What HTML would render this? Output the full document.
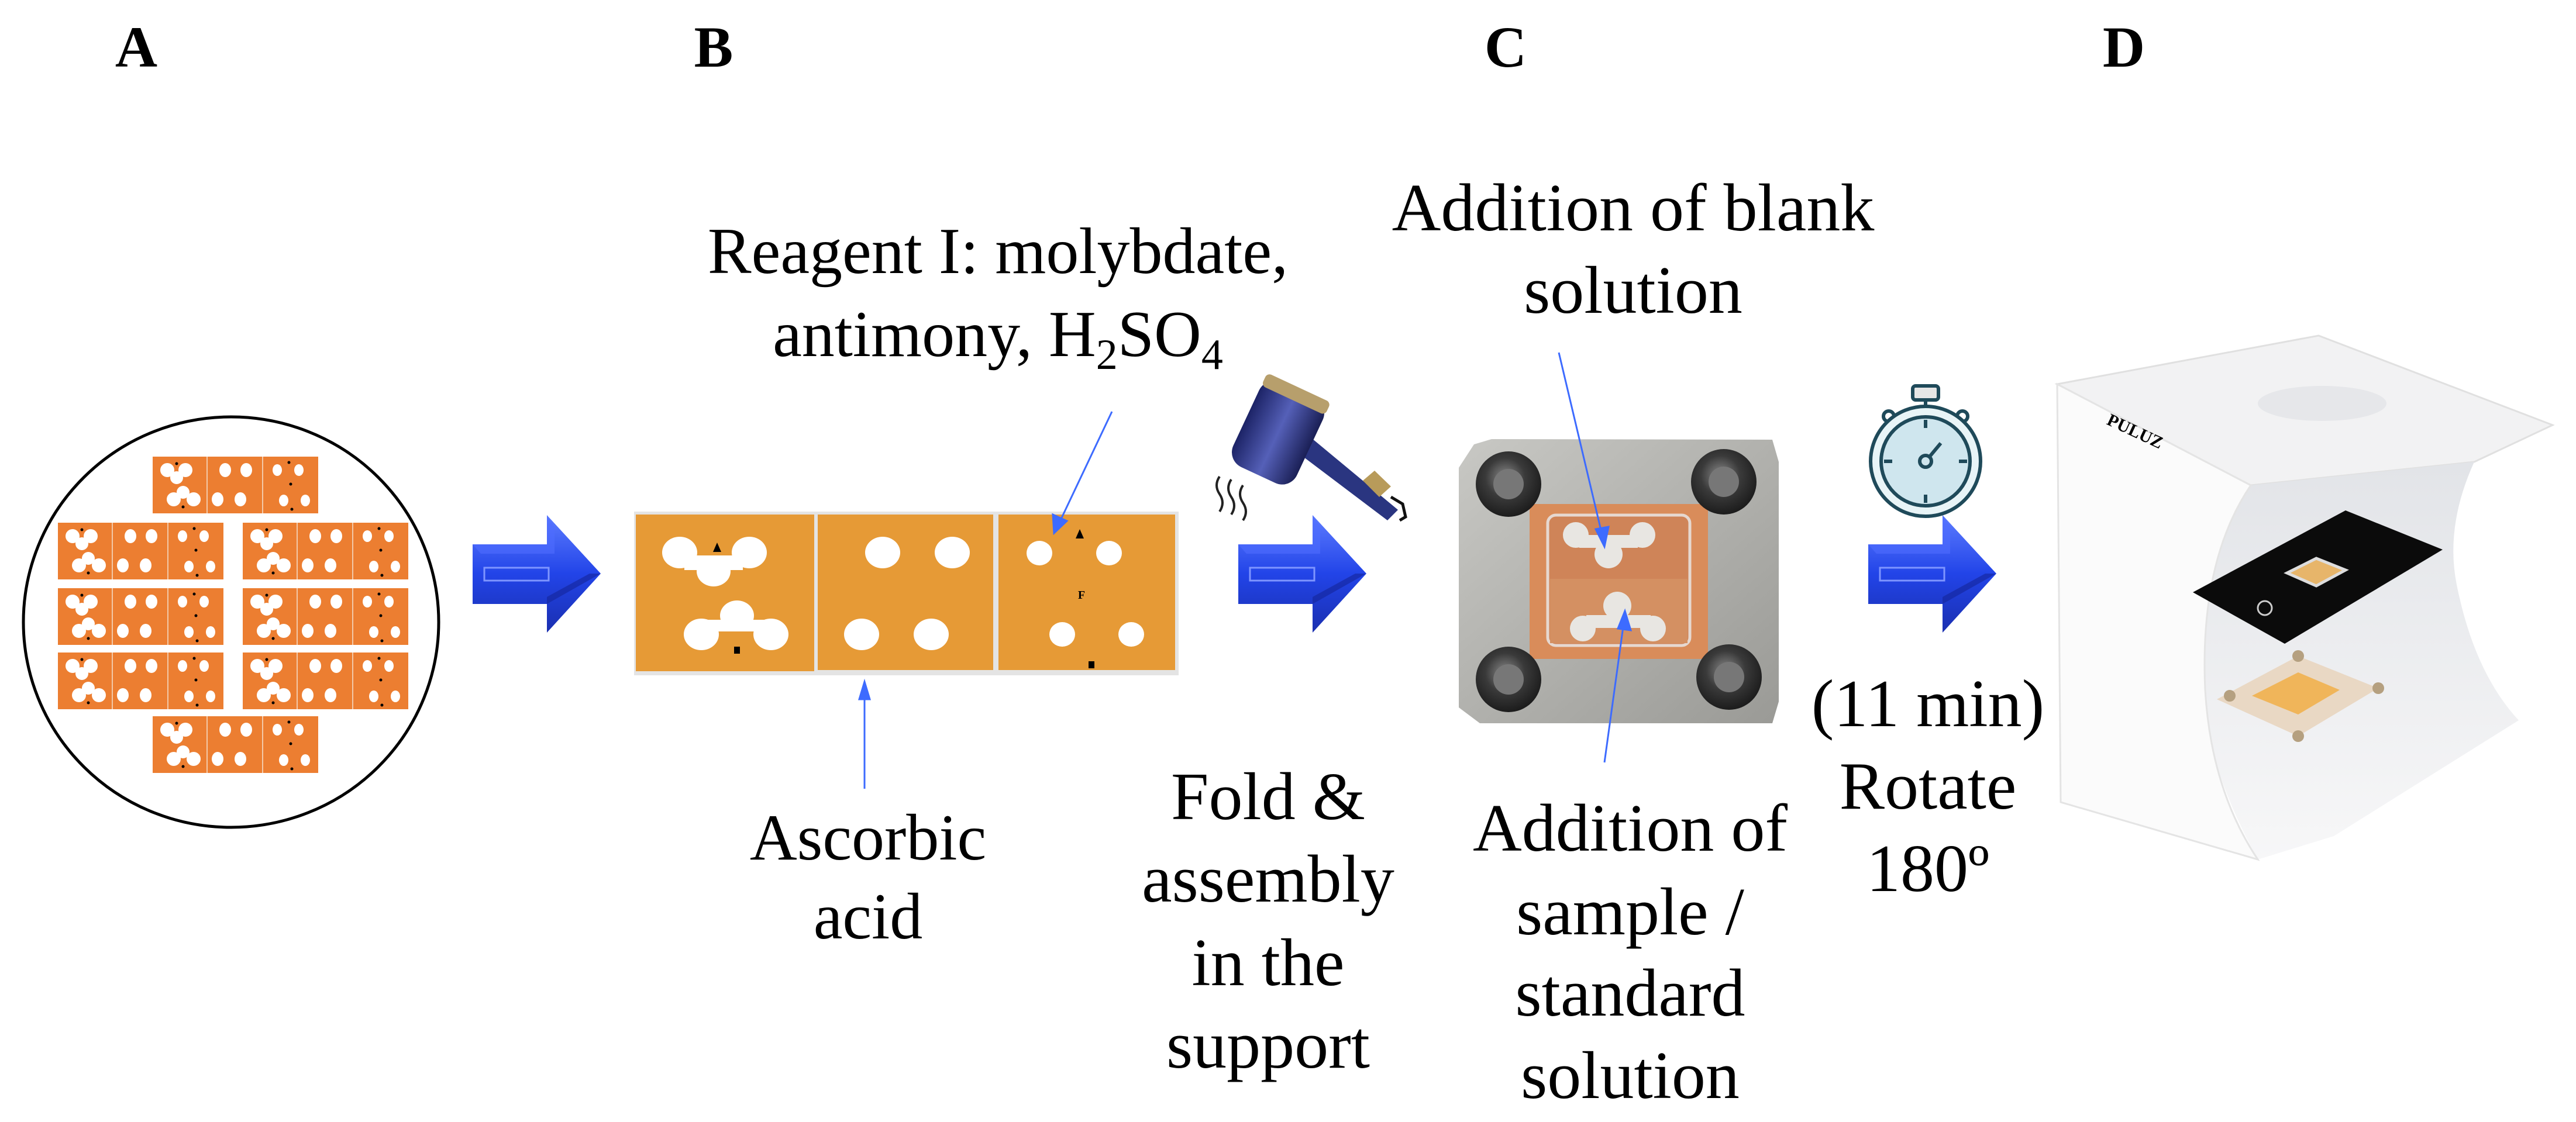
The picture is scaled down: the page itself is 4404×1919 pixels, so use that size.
<!DOCTYPE html>
<html><head><meta charset="utf-8"><style>
html,body{margin:0;padding:0;background:#fff;}
svg{display:block;}
text{font-family:"Liberation Serif",serif;fill:#000;}
</style></head><body>
<svg width="4404" height="1919" viewBox="0 0 4404 1919" xmlns="http://www.w3.org/2000/svg">
<defs>
<g id="chip">
 <rect x="0" y="0" width="283" height="97" fill="#EC7E31"/>
 <line x1="93" y1="0" x2="93" y2="97" stroke="#f3c9a8" stroke-width="2"/>
 <line x1="188" y1="0" x2="188" y2="97" stroke="#f3c9a8" stroke-width="2"/>
 <g fill="#fff">
  <ellipse cx="25" cy="23" rx="12" ry="12"/><ellipse cx="56" cy="23" rx="12" ry="12"/><ellipse cx="41" cy="36" rx="11" ry="11"/>
  <ellipse cx="36" cy="73" rx="12" ry="12"/><ellipse cx="70" cy="73" rx="12" ry="12"/><ellipse cx="52" cy="61" rx="11" ry="11"/>
  <ellipse cx="124" cy="23" rx="10" ry="12"/><ellipse cx="160" cy="23" rx="10" ry="12"/>
  <ellipse cx="111" cy="73" rx="10" ry="12"/><ellipse cx="150" cy="73" rx="10" ry="12"/>
  <ellipse cx="213" cy="23" rx="8" ry="10"/><ellipse cx="250" cy="23" rx="8" ry="10"/>
  <ellipse cx="224" cy="75" rx="8" ry="10"/><ellipse cx="261" cy="75" rx="8" ry="10"/>
 </g>
 <g fill="#000"><circle cx="41" cy="12" r="2.5"/><circle cx="52" cy="86" r="2.5"/><circle cx="233" cy="10" r="2.5"/><circle cx="236" cy="47" r="2.5"/><circle cx="238" cy="90" r="2.5"/></g>
</g>
<linearGradient id="ab" x1="0" y1="0" x2="0" y2="1">
 <stop offset="0" stop-color="#5d7cff"/><stop offset="0.5" stop-color="#2244e8"/><stop offset="1" stop-color="#1a2fb0"/>
</linearGradient>
<g id="barrow">
 <polygon points="0,50 127,50 127,0 219,100 127,201 127,152 0,152" fill="url(#ab)"/>
 <polygon points="0,50 127,50 127,0 140,20 140,66 14,66" fill="#4f6cff" opacity="0.6"/>
 <rect x="20" y="90" width="110" height="22" fill="none" stroke="#7e95ff" stroke-width="3"/>
 <polygon points="127,152 219,100 200,100 127,140" fill="#14249a" opacity="0.6"/>
</g>
<linearGradient id="dry" x1="0" y1="0" x2="1" y2="0"><stop offset="0" stop-color="#1c2366"/><stop offset="0.5" stop-color="#5560b8"/><stop offset="1" stop-color="#1a1f55"/></linearGradient>
<radialGradient id="scr" cx="0.45" cy="0.4" r="0.6"><stop offset="0" stop-color="#8a8a8a"/><stop offset="0.5" stop-color="#3a3a3a"/><stop offset="1" stop-color="#1c1c1c"/></radialGradient>
<linearGradient id="plate" x1="0" y1="0" x2="1" y2="1"><stop offset="0" stop-color="#c8c8c4"/><stop offset="1" stop-color="#9a9a96"/></linearGradient>
<linearGradient id="sweep" x1="0" y1="0" x2="0" y2="1"><stop offset="0" stop-color="#e2e4e8"/><stop offset="1" stop-color="#f7f7f8"/></linearGradient>
</defs>

<g font-weight="bold" font-size="100" text-anchor="middle">
 <text x="233" y="114">A</text>
 <text x="1220" y="114">B</text>
 <text x="2574" y="114">C</text>
 <text x="3631" y="114">D</text>
</g>

<ellipse cx="395" cy="1064" rx="355" ry="351" fill="none" stroke="#000" stroke-width="5"/>
<use href="#chip" x="261" y="781"/>
<use href="#chip" x="99" y="894"/><use href="#chip" x="415" y="894"/>
<use href="#chip" x="99" y="1006"/><use href="#chip" x="415" y="1006"/>
<use href="#chip" x="99" y="1116"/><use href="#chip" x="415" y="1116"/>
<use href="#chip" x="261" y="1225"/>

<use href="#barrow" x="808" y="881"/>
<use href="#barrow" x="2117" y="881"/>
<use href="#barrow" x="3194" y="881"/>

<rect x="1084" y="875" width="931" height="280" fill="#e4e4e4"/>
<rect x="1087" y="880" width="305" height="268" fill="#E69A36"/>
<rect x="1398" y="880" width="300" height="266" fill="#E69A36"/>
<rect x="1707" y="880" width="302" height="266" fill="#E69A36"/>
<g fill="#fff">
 <ellipse cx="1162" cy="945" rx="30" ry="27"/><ellipse cx="1281" cy="945" rx="30" ry="27"/><ellipse cx="1220" cy="977" rx="29" ry="26"/>
 <rect x="1170" y="950" width="100" height="25"/>
 <ellipse cx="1199" cy="1085" rx="30" ry="27"/><ellipse cx="1318" cy="1085" rx="30" ry="27"/><ellipse cx="1260" cy="1053" rx="29" ry="26"/>
 <rect x="1210" y="1060" width="100" height="20"/>
 <ellipse cx="1509" cy="945" rx="30" ry="27"/><ellipse cx="1628" cy="945" rx="30" ry="27"/>
 <ellipse cx="1473" cy="1085" rx="30" ry="27"/><ellipse cx="1592" cy="1085" rx="30" ry="27"/>
 <ellipse cx="1777" cy="946" rx="22" ry="21"/><ellipse cx="1896" cy="946" rx="22" ry="21"/>
 <ellipse cx="1816" cy="1085" rx="22" ry="21"/><ellipse cx="1934" cy="1085" rx="22" ry="21"/>
</g>
<polygon points="1226,928 1219,944 1233,944" fill="#000"/>
<rect x="1255" y="1106" width="10" height="12" fill="#000"/>
<polygon points="1846,905 1839,921 1853,921" fill="#000"/>
<text x="1849" y="1024" font-size="20" font-weight="bold" text-anchor="middle">F</text>
<rect x="1861" y="1131" width="10" height="12" fill="#000"/>

<g font-size="112" text-anchor="middle">
 <text x="1706" y="467">Reagent I: molybdate,</text>
 <text x="1706" y="609">antimony, H<tspan font-size="74" dy="22">2</tspan><tspan dy="-22">SO</tspan><tspan font-size="74" dy="22">4</tspan></text>
 <text x="1484" y="1470">Ascorbic</text>
 <text x="1484" y="1605">acid</text>
</g>
<g stroke="#3d6bff" stroke-width="3" fill="#3d6bff">
 <line x1="1901" y1="704" x2="1812" y2="892"/>
 <polygon points="1802,912 1800,880 1824,891"/>
 <line x1="1478" y1="1349" x2="1478" y2="1190"/>
 <polygon points="1478,1166 1469,1196 1487,1196"/>
</g>

<!-- hair dryer -->
<g>
 <polygon points="2200,760 2225,735 2390,872 2372,890" fill="#2a3580"/>
 <polygon points="2330,822 2350,805 2378,832 2358,850" fill="#b89b5a"/>
 <path d="M2378,850 l20,12 l5,22 l-10,6" fill="none" stroke="#111" stroke-width="5"/>
 <g transform="rotate(25 2185 740)">
  <rect x="2125" y="660" width="120" height="160" rx="28" fill="url(#dry)"/>
  <rect x="2125" y="655" width="120" height="24" rx="8" fill="#b79f6c"/>
 </g>
 <g fill="none" stroke="#222" stroke-width="4">
  <path d="M2085,815 q-10,15 0,30 q10,15 0,30"/>
  <path d="M2105,820 q-10,15 0,30 q10,15 0,30"/>
  <path d="M2125,830 q-10,15 0,30 q10,15 0,30"/>
 </g>
</g>

<polygon points="2520,760 2550,751 3030,752 3041,790 3041,1200 3030,1237 2530,1237 2494,1210 2494,800" fill="url(#plate)"/>
<rect x="2615" y="862" width="305" height="265" fill="#d98c5a"/>
<rect x="2646" y="881" width="243" height="223" rx="14" fill="#cf8458" stroke="#e6d8d0" stroke-width="5"/>
<rect x="2650" y="990" width="235" height="110" fill="#d49062"/>
<g fill="#e8e6e2">
 <circle cx="2694" cy="915" r="22"/><circle cx="2808" cy="915" r="22"/><circle cx="2750" cy="948" r="24"/>
 <rect x="2700" y="915" width="100" height="22"/>
 <circle cx="2706" cy="1075" r="22"/><circle cx="2826" cy="1075" r="22"/><circle cx="2765" cy="1036" r="24"/>
 <rect x="2712" y="1052" width="110" height="22"/>
</g>
<g>
 <circle cx="2579" cy="828" r="56" fill="url(#scr)"/><circle cx="2579" cy="828" r="26" fill="#777"/>
 <circle cx="2947" cy="824" r="56" fill="url(#scr)"/><circle cx="2947" cy="824" r="26" fill="#777"/>
 <circle cx="2579" cy="1162" r="56" fill="url(#scr)"/><circle cx="2579" cy="1162" r="26" fill="#777"/>
 <circle cx="2956" cy="1158" r="56" fill="url(#scr)"/><circle cx="2956" cy="1158" r="26" fill="#777"/>
</g>
<g stroke="#3d6bff" stroke-width="3" fill="#3d6bff">
 <line x1="2665" y1="603" x2="2739" y2="915"/>
 <polygon points="2743,935 2728,905 2750,901"/>
 <line x1="2743" y1="1304" x2="2776" y2="1065"/>
 <polygon points="2778,1045 2766,1075 2788,1078"/>
</g>
<g font-size="116" text-anchor="middle">
 <text x="2792" y="394">Addition of blank</text>
 <text x="2792" y="535">solution</text>
 <text x="2168" y="1401">Fold &amp;</text>
 <text x="2168" y="1542">assembly</text>
 <text x="2168" y="1685">in the</text>
 <text x="2168" y="1826">support</text>
 <text x="2787" y="1455">Addition of</text>
 <text x="2787" y="1598">sample /</text>
 <text x="2787" y="1737">standard</text>
 <text x="2787" y="1878">solution</text>
 <text x="3296" y="1242">(11 min)</text>
 <text x="3296" y="1383">Rotate</text>
 <text x="3296" y="1524">180º</text>
</g>

<g stroke="#1f4a5a" stroke-width="6" fill="none">
 <rect x="3270" y="660" width="44" height="24" rx="5" fill="#e6e6e6"/>
 <line x1="3292" y1="684" x2="3292" y2="700"/>
 <circle cx="3229" cy="712" r="9"/><circle cx="3355" cy="712" r="9"/>
 <line x1="3235" y1="718" x2="3248" y2="730"/><line x1="3349" y1="718" x2="3336" y2="730"/>
 <circle cx="3292" cy="789" r="94" fill="#e8f4f7"/>
 <circle cx="3292" cy="789" r="76" fill="#cfe6ee"/>
 <circle cx="3292" cy="789" r="10"/>
 <line x1="3298" y1="782" x2="3318" y2="758"/>
 <line x1="3292" y1="718" x2="3292" y2="732"/><line x1="3292" y1="846" x2="3292" y2="860"/>
 <line x1="3221" y1="789" x2="3235" y2="789"/><line x1="3349" y1="789" x2="3363" y2="789"/>
</g>

<g>
 <polygon points="3517,657 3964,574 4364,727 4230,790 3848,830" fill="#f2f2f3" stroke="#e0e0e0" stroke-width="3"/>
 <ellipse cx="3970" cy="690" rx="110" ry="30" fill="#e6e7ea"/>
 <path d="M3848,830 L4230,790 Q4180,900 4200,1000 Q4230,1150 4306,1232 L3990,1430 L3860,1470 Q3740,1250 3760,1060 Q3780,900 3848,830 Z" fill="url(#sweep)"/>
 <path d="M3517,657 L3848,830 Q3760,960 3770,1180 Q3780,1350 3860,1470 L3523,1372 Z" fill="#fbfbfb" stroke="#e4e4e4" stroke-width="3"/>
 <text x="3600" y="725" font-family="Liberation Sans,sans-serif" font-size="30" font-weight="bold" fill="#333" transform="rotate(25 3600 725)">PULUZ</text>
 <polygon points="3749,1013 4010,873 4176,940 3906,1101" fill="#0b0b0b"/>
 <polygon points="3910,980 3960,955 4010,975 3960,1002" fill="#e7b56a" stroke="#ddd" stroke-width="5"/>
 <circle cx="3872" cy="1040" r="12" fill="none" stroke="#ccc" stroke-width="3"/>
 <polygon points="3790,1196 3929,1122 4066,1177 3929,1259" fill="#e9d8c4"/>
 <polygon points="3850,1190 3929,1150 4000,1180 3929,1222" fill="#f0b55a"/>
 <circle cx="3929" cy="1122" r="10" fill="#b5a080"/><circle cx="4066" cy="1177" r="10" fill="#b5a080"/>
 <circle cx="3929" cy="1259" r="10" fill="#b5a080"/><circle cx="3812" cy="1190" r="10" fill="#b5a080"/>
</g>
</svg>
</body></html>
